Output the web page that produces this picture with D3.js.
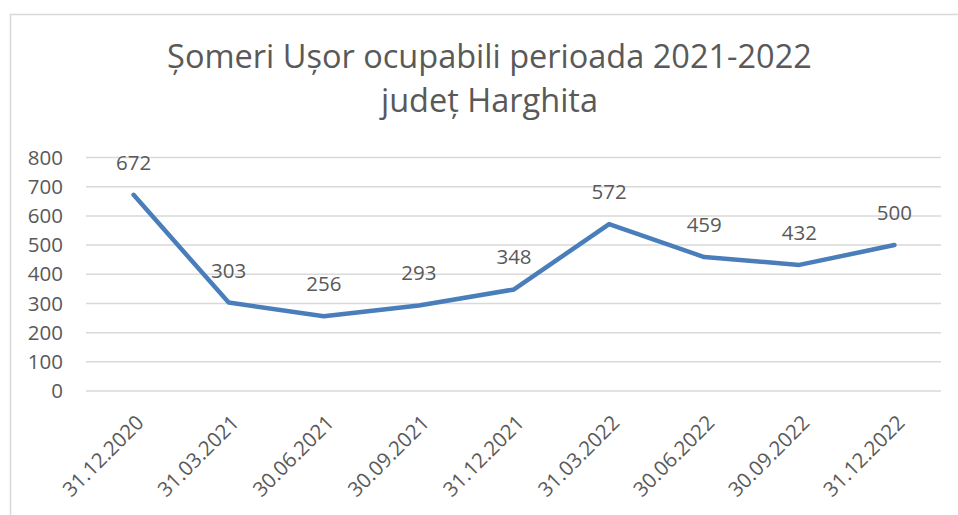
<!DOCTYPE html>
<html>
<head>
<meta charset="utf-8">
<script src="https://cdn.jsdelivr.net/npm/d3@7"></script>
<style>
  html, body { margin: 0; padding: 0; background: #fff; }
  svg { display: block; }
  text { font-family: "Open Sans", "Noto Sans", sans-serif; fill: #595959; }
</style>
</head>
<body>
<script>
// ---- data ----
const categories = ["31.12.2020","31.03.2021","30.06.2021","30.09.2021","31.12.2021","31.03.2022","30.06.2022","30.09.2022","31.12.2022"];
const values = [672, 303, 256, 293, 348, 572, 459, 432, 500];
const yTicks = [0, 100, 200, 300, 400, 500, 600, 700, 800];
const titleLines = ["Șomeri Ușor ocupabili perioada 2021-2022", "județ Harghita"];

const W = 958, H = 515;
const FS = 20.5;
const svg = d3.select("body").append("svg").attr("width", W).attr("height", H);

// chart border
svg.append("rect").attr("x", 10.5).attr("y", 14.5).attr("width", 980).attr("height", 540)
  .attr("fill", "none").attr("stroke", "#d9d9d9").attr("stroke-width", 1.5);

const plot = { left: 86, right: 942, top: 157.5, bottom: 391 };
const x = d3.scalePoint().domain(categories).range([plot.left, plot.right]).padding(0.5);
const y = d3.scaleLinear().domain([0, 800]).range([plot.bottom, plot.top]);

// gridlines
svg.append("g").selectAll("line").data(yTicks).join("line")
  .attr("x1", plot.left).attr("x2", plot.right - 1)
  .attr("y1", d => y(d)).attr("y2", d => y(d))
  .attr("stroke", "#d9d9d9").attr("stroke-width", 1.5);

// y axis
const yAxis = svg.append("g").attr("transform", `translate(${plot.left},0)`)
  .call(d3.axisLeft(y).tickValues(yTicks).tickSize(0).tickPadding(23));
yAxis.select(".domain").remove();
yAxis.selectAll("text").attr("font-size", FS).attr("fill", "#595959")
  .style("font-family", '"Open Sans", sans-serif');

// x axis labels
const xAxis = svg.append("g").attr("transform", `translate(0,${plot.bottom})`)
  .call(d3.axisBottom(x).tickSize(0).tickPadding(0));
xAxis.select(".domain").remove();
xAxis.selectAll("text")
  .attr("font-size", FS).attr("fill", "#595959")
  .style("font-family", '"Open Sans", sans-serif')
  .attr("text-anchor", "end")
  .attr("dy", "0.35em")
  .attr("transform", "translate(6,28) rotate(-45)")
  .attr("y", 0).attr("x", 0);

// line
const line = d3.line().x((d, i) => x(categories[i])).y(d => y(d));
svg.append("path").datum(values).attr("d", line)
  .attr("fill", "none").attr("stroke", "#4a7ebb").attr("stroke-width", 4.5)
  .attr("stroke-linejoin", "round").attr("stroke-linecap", "round");

// data labels
svg.append("g").selectAll("text").data(values).join("text")
  .attr("x", (d, i) => x(categories[i]))
  .attr("y", d => y(d) - 25)
  .attr("text-anchor", "middle")
  .attr("font-size", FS).attr("fill", "#404040")
  .text(d => d);

// title
const t1 = svg.append("text").attr("x", 489.5).attr("y", 68).attr("text-anchor", "middle")
  .attr("font-size", 29).text(titleLines[0]);
const len = t1.node().getComputedTextLength();
const fs = 29 * 645 / len;
t1.attr("font-size", fs);
svg.append("text").attr("x", 489.5).attr("y", 112).attr("text-anchor", "middle")
  .attr("font-size", fs).text(titleLines[1]);
</script>
</body>
</html>
